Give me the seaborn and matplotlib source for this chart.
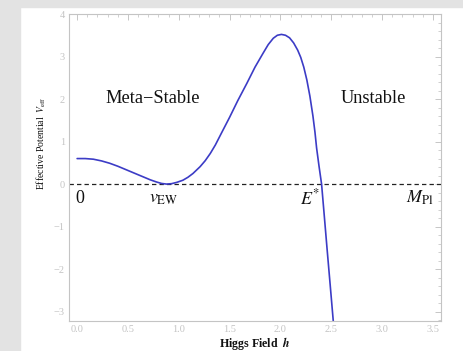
import numpy as np
import pandas as pd
import matplotlib
matplotlib.use("Agg")
import matplotlib.pyplot as plt
import seaborn as sns
from matplotlib.patches import Rectangle
from matplotlib.ticker import MultipleLocator

# curve (Higgs field h, effective potential V)
h_vals = [0.00, 0.08, 0.16, 0.24, 0.32, 0.40, 0.49, 0.57, 0.65, 0.72, 0.78,
          0.83, 0.88, 0.93, 0.98, 1.04, 1.09, 1.14, 1.21, 1.26, 1.31, 1.36,
          1.42, 1.50, 1.58, 1.67, 1.75, 1.83, 1.88, 1.93, 1.97, 2.01, 2.05,
          2.09, 2.13, 2.17, 2.20, 2.23, 2.26, 2.29, 2.32, 2.34, 2.356, 2.38,
          2.405, 2.43, 2.46, 2.49, 2.52]
v_vals = [0.60, 0.60, 0.585, 0.545, 0.49, 0.42, 0.33, 0.25, 0.17, 0.10, 0.05,
          0.015, 0.00, 0.01, 0.04, 0.09, 0.16, 0.25, 0.41, 0.55, 0.72, 0.92,
          1.20, 1.57, 1.96, 2.37, 2.75, 3.08, 3.28, 3.43, 3.50, 3.52, 3.50,
          3.44, 3.32, 3.15, 2.98, 2.75, 2.45, 2.07, 1.60, 1.22, 0.85, 0.42,
          0.00, -0.70, -1.55, -2.38, -3.22]

region_names = ["Meta\u2212Stable", "Unstable"]
region_h = [0.74, 2.91]
region_v = [2.02, 2.02]

scale_labels = ["0", r"$v_{\rm EW}$", r"$E^{*}$", r"$M_{\rm Pl}$"]
scale_h = [0.03, 0.85, 2.29, 3.37]
scale_v = -0.33

df = pd.DataFrame({"h": h_vals, "V": v_vals})

sns.set_style("white")
plt.rcParams["font.family"] = ["Liberation Serif", "DejaVu Serif"]
plt.rcParams["mathtext.fontset"] = "stix"

fig = plt.figure(figsize=(4.63, 3.51), dpi=100)
fig.patch.set_facecolor("white")
# grey page strips (top and left)
fig.patches.append(Rectangle((0, 1 - 7 / 351), 1, 7 / 351, transform=fig.transFigure,
                             color="#e3e3e3", zorder=0))
fig.patches.append(Rectangle((0, 0), 20 / 463, 1, transform=fig.transFigure,
                             color="#e3e3e3", zorder=0))

ax = fig.add_axes([69 / 463, 30 / 351, 372 / 463, 307 / 351])

ax.axhline(0, color="#222222", lw=0.9, ls=(0, (3.5, 2.5)), zorder=1)
sns.lineplot(data=df, x="h", y="V", sort=False, estimator=None, color="#3c3cc6",
             lw=1.2, ax=ax, zorder=2)

for name, hx, vy in zip(region_names, region_h, region_v):
    ax.text(hx, vy, name, ha="center", va="center", fontsize=13.2, color="#111111")
for lab, hx in zip(scale_labels, scale_h):
    ax.text(hx, scale_v, lab, ha="center", va="center", fontsize=13, color="#111111")

ax.set_xlim(-0.08, 3.58)
ax.set_ylim(-3.22, 4.0)
ax.set_xticks(np.arange(0, 3.51, 0.5))
ax.set_xticklabels([f"{t:.1f}" for t in np.arange(0, 3.51, 0.5)])
ax.set_yticks(range(-3, 5))
ax.set_yticklabels([str(t).replace("-", "\u2212") for t in range(-3, 5)])
ax.xaxis.set_minor_locator(MultipleLocator(0.1))
ax.yaxis.set_minor_locator(MultipleLocator(0.2))
ax.tick_params(which="both", direction="in", top=True, right=True,
               color="#bdbdbd", labelcolor="#c4c4c4", labelsize=7.5, pad=3)
ax.tick_params(which="major", length=4, width=0.6)
ax.tick_params(which="minor", length=2, width=0.5)
for s in ax.spines.values():
    s.set_color("#c4c4c4")
    s.set_linewidth(0.8)

ax.set_xlabel(r"Higgs Field  $\boldsymbol{h}$", fontsize=8.6, fontweight="bold", color="#111111")
ax.xaxis.set_label_coords(0.5, -0.045)
ax.set_ylabel(r"Effective Potential  $V_{\rm eff}$", fontsize=7, color="#111111")
ax.yaxis.set_label_coords(-0.057, 0.578)

fig.savefig("out.png", dpi=100)
